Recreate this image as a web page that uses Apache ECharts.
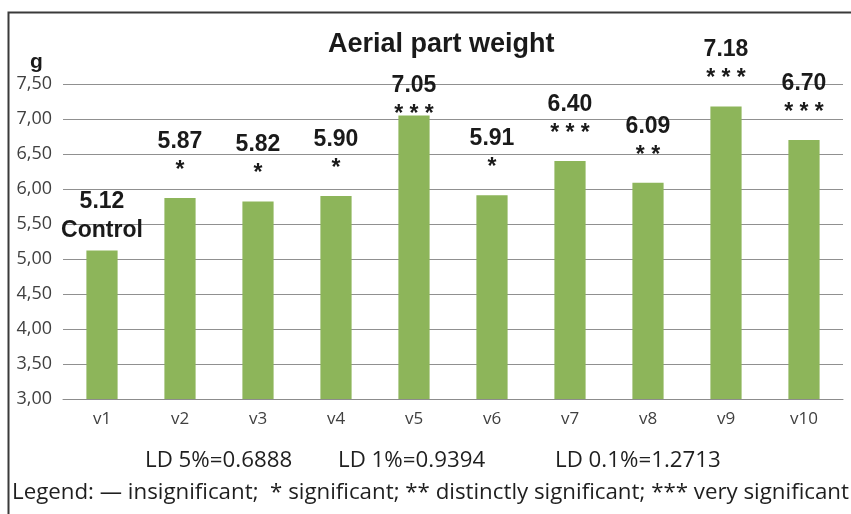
<!DOCTYPE html>
<html>
<head>
<meta charset="utf-8">
<script src="https://cdn.jsdelivr.net/npm/echarts@6/dist/echarts.min.js"></script>
<style>
  html, body { margin: 0; padding: 0; background: #fff; }
  #chart { width: 851px; height: 514px; }
</style>
</head>
<body>
<div id="chart"></div>
<script>
// data
const categories = ['v1', 'v2', 'v3', 'v4', 'v5', 'v6', 'v7', 'v8', 'v9', 'v10'];
const weights = [5.12, 5.87, 5.82, 5.90, 7.05, 5.91, 6.40, 6.09, 7.18, 6.70];
const marks = ['Control', '*', '*', '*', '***', '*', '***', '**', '***', '***'];
const yTicks = [3.0, 3.5, 4.0, 4.5, 5.0, 5.5, 6.0, 6.5, 7.0, 7.5];
const ldNotes = ['LD 5%=0.6888', 'LD 1%=0.9394', 'LD 0.1%=1.2713'];

// hand placed labels in the original: a couple sit lower than the rest
const labelNudge = [8, 0, 0, 0, 27, 0, 0, 0, 0, 0];
const ldLeft = [145, 338, 555];

const chart = echarts.init(document.getElementById('chart'));

const noteStyle = { fontFamily: 'Open Sans', fontSize: 22.3, fill: '#1f1f1f' };

const option = {
  animation: false,
  title: [
    {
      text: 'Aerial part weight',
      left: 323,
      top: 26,
      textStyle: { fontFamily: 'Liberation Sans', fontWeight: 'bold', fontSize: 27, color: '#1a1a1a' }
    },
    {
      text: 'g',
      left: 25,
      top: 47,
      textStyle: { fontFamily: 'Liberation Sans', fontWeight: 'bold', fontSize: 21, color: '#1a1a1a' }
    }
  ],
  grid: { left: 63, right: 8, top: 84, bottom: 115 },
  xAxis: {
    type: 'category',
    data: categories,
    axisLine: { lineStyle: { color: '#8c8c8c', width: 1 } },
    axisTick: { length: 5, lineStyle: { color: '#8c8c8c' } },
    axisLabel: { fontFamily: 'Open Sans', fontSize: 17, color: '#404040', margin: 12 }
  },
  yAxis: {
    type: 'value',
    min: yTicks[0],
    max: yTicks[yTicks.length - 1],
    interval: 0.5,
    axisLine: { show: false },
    axisTick: { show: false },
    splitLine: { lineStyle: { color: '#909090', width: 1 } },
    axisLabel: {
      fontFamily: 'Open Sans',
      fontSize: 18,
      color: '#404040',
      margin: 11,
      formatter: v => v.toFixed(2).replace('.', ',')
    }
  },
  series: [
    {
      type: 'bar',
      barWidth: '40%',
      itemStyle: { color: '#8db55a' },
      data: weights.map((w, i) => ({
        value: w,
        label: { offset: [0, labelNudge[i]] }
      })),
      label: {
        show: true,
        position: 'top',
        distance: 13,
        formatter: p => {
          const m = marks[p.dataIndex];
          const line2 = m.indexOf('*') === 0 ? '{s|' + m.split('').join(' ') + '}' : '{v|' + m + '}';
          return '{v|' + p.value.toFixed(2) + '}\n' + line2;
        },
        rich: {
          v: { fontFamily: 'Liberation Sans', fontWeight: 'bold', fontSize: 23, color: '#1a1a1a', lineHeight: 29 },
          s: { fontFamily: 'Liberation Sans', fontWeight: 'bold', fontSize: 23, color: '#1a1a1a', lineHeight: 29 }
        }
      }
    }
  ],
  graphic: [
    {
      type: 'rect',
      left: 6, top: 10,
      shape: { width: 900, height: 600 },
      style: { fill: null, stroke: '#3a3a3a', lineWidth: 2 }
    }
  ].concat(ldNotes.map((t, i) => ({
    type: 'text',
    left: ldLeft[i],
    top: 450,
    style: Object.assign({ text: t }, noteStyle)
  }))).concat([
    {
      type: 'text',
      left: 12,
      top: 482,
      style: Object.assign({
        text: 'Legend: \u2014 insignificant;  * significant; ** distinctly significant; *** very significant'
      }, noteStyle)
    }
  ])
};

chart.setOption(option);
</script>
</body>
</html>
